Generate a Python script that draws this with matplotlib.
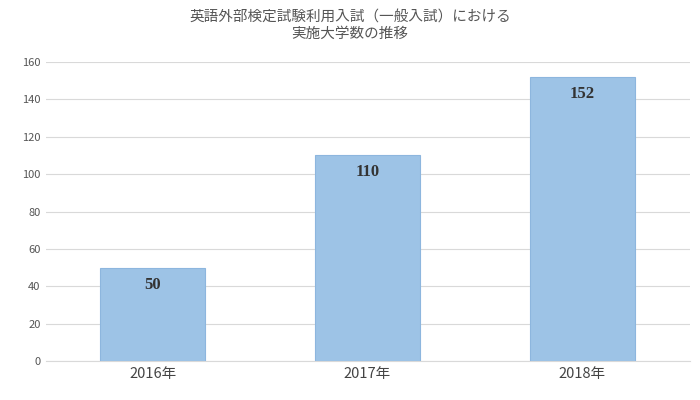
import matplotlib
matplotlib.use('Agg')
import matplotlib.pyplot as plt

plt.rcParams['font.family'] = ['Noto Sans CJK JP', 'DejaVu Sans']

categories = ['2016年', '2017年', '2018年']
values = [50, 110, 152]
title = '英語外部検定試験利用入試（一般入試）における\n実施大学数の推移'

fig = plt.figure(figsize=(7, 4), dpi=100)
ax = fig.add_axes([0.065, 0.097, 0.92, 0.748])

bars = ax.bar(range(len(categories)), values, width=0.49, color='#9DC3E6',
              edgecolor='#8DB6DE', linewidth=0.8, zorder=3)
for i, v in enumerate(values):
    ax.text(i, v - 9, str(v), ha='center', va='center', fontsize=12,
            fontweight='bold', family=['Liberation Serif'], color='#333333', zorder=4)

ax.set_xlim(-0.5, 2.5)
ax.set_ylim(0, 160)
ax.set_yticks(range(0, 161, 20))
ax.set_xticks(range(len(categories)))
ax.set_xticklabels(categories, fontsize=10.5, color='#444444')
ax.tick_params(axis='y', labelsize=8, colors='#555555', length=0)
ax.tick_params(axis='x', length=0, pad=4)
ax.grid(axis='y', color='#D9D9D9', linewidth=0.8, zorder=0)
for s in ['top', 'right', 'left']:
    ax.spines[s].set_visible(False)
ax.spines['bottom'].set_color('#D9D9D9')

fig.text(0.5, 0.935, title, ha='center', va='center', fontsize=10.5,
         color='#555555', linespacing=1.2)

fig.savefig('out.png', dpi=100)
